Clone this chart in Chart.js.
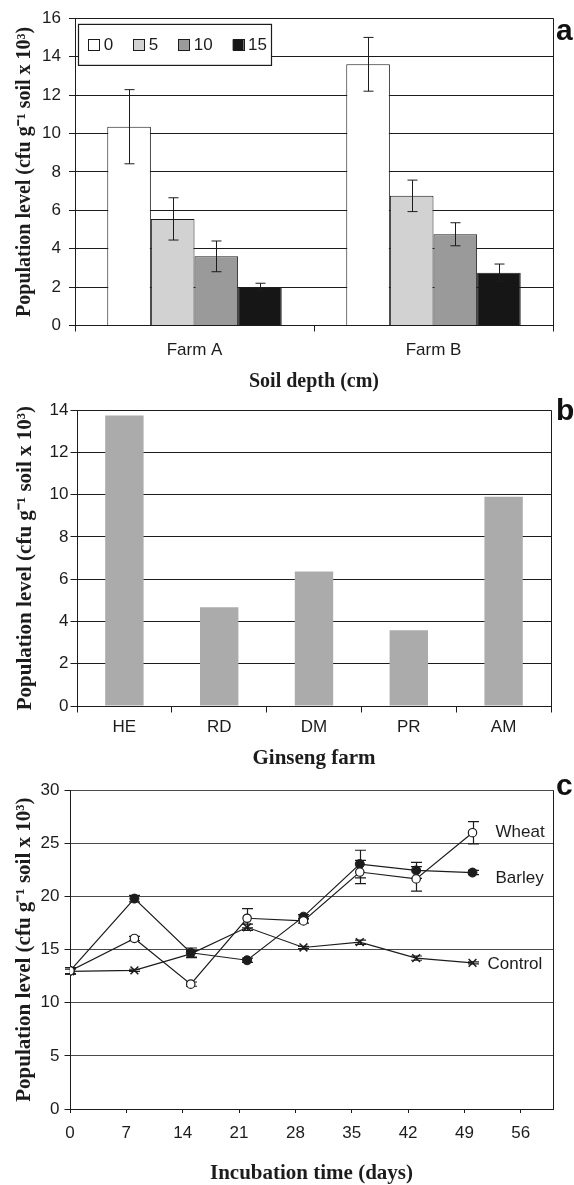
<!DOCTYPE html>
<html lang="en">
<head>
<meta charset="utf-8">
<title>Population level</title>
<script src="https://cdn.jsdelivr.net/npm/chart.js@4.4.1/dist/chart.umd.min.js"></script>
<style>
  html, body { margin:0; padding:0; background:#fff; }
  body { position:relative; width:574px; height:1185px; overflow:hidden; }
  canvas { position:absolute; left:0; }
  .tag { position:absolute; left:556px; font:bold 30px/30px 'Liberation Sans', Arial, sans-serif; color:#111; }
</style>
</head>
<body>
<canvas id="chartA" width="574" height="398" style="top:0"></canvas>
<canvas id="chartB" width="574" height="377" style="top:398px"></canvas>
<canvas id="chartC" width="574" height="410" style="top:775px"></canvas>
<div class="tag" style="top:15px">a</div>
<div class="tag" style="top:395px">b</div>
<div class="tag" style="top:770px">c</div>
<script>
// ---------- DATA ----------
// (a) soil depth
const depthFarms = ['Farm A', 'Farm B'];
const depthLabels = ['0', '5', '10', '15'];
const depth0 = [10.35, 13.6];
const depth5 = [5.55, 6.75];
const depth10 = [3.6, 4.75];
const depth15 = [2.0, 2.75];
const depth0Err = [1.93, 1.4];
const depth5Err = [1.1, 0.82];
const depth10Err = [0.8, 0.6];
const depth15Err = [0.2, 0.45];
const depthTicks = [0, 2, 4, 6, 8, 10, 12, 14, 16];

// (b) ginseng farm
const ginsengFarms = ['HE', 'RD', 'DM', 'PR', 'AM'];
const ginsengValues = [13.75, 4.67, 6.36, 3.58, 9.9];
const ginsengTicks = [0, 2, 4, 6, 8, 10, 12, 14];

// (c) incubation time
const incubationDays = [0, 8, 15, 22, 29, 36, 43, 50];
const wheatValues = [13.0, 16.05, 11.75, 17.95, 17.7, 22.3, 21.65, 26.0];
const wheatErrors = [0.3, 0.2, 0.2, 0.9, 0.2, 1.1, 1.15, 1.05];
const barleyValues = [13.0, 19.8, 14.7, 14.0, 18.1, 23.05, 22.45, 22.25];
const barleyErrors = [0.3, 0.3, 0.45, 0.2, 0.2, 1.3, 0.75, 0.2];
const controlValues = [12.95, 13.05, 14.6, 17.1, 15.2, 15.7, 14.2, 13.75];
const controlErrors = [0.2, 0.1, 0.3, 0.3, 0.1, 0.2, 0.2, 0.1];
const dayTicks = [0, 7, 14, 21, 28, 35, 42, 49, 56];
const populationTicks = [0, 5, 10, 15, 20, 25, 30];

// ---------- STYLE ----------
const SANS = "'Liberation Sans', Arial, Helvetica, sans-serif";
const SERIF = "'Liberation Serif', 'Times New Roman', Times, serif";
const INK = '#1c1c1c';
const Y_TITLE = 'Population level (cfu g\u207B\u00B9 soil x 10\u00B3)';
const depthColors = ['#ffffff', '#d2d2d2', '#9a9a9a', '#161616'];

Chart.defaults.font.family = SANS;
Chart.defaults.color = INK;

// ---------- PLUGINS ----------
function drawErrorBars(chart, opts){
  const ctx = chart.ctx;
  const yScale = chart.scales.y;
  ctx.save();
  ctx.strokeStyle = opts.color || INK;
  ctx.lineWidth = opts.lineWidth || 1;
  chart.data.datasets.forEach((ds, di) => {
    if(!ds.errors) return;
    const meta = chart.getDatasetMeta(di);
    meta.data.forEach((el, i) => {
      const raw = ds.data[i];
      const v = typeof raw === 'object' ? raw.y : raw;
      const e = ds.errors[i];
      const x = Math.round(el.x) + 0.5;
      const yTop = yScale.getPixelForValue(v + e);
      const yBot = yScale.getPixelForValue(v - e);
      ctx.beginPath();
      ctx.moveTo(x, yTop); ctx.lineTo(x, yBot);
      ctx.moveTo(x - opts.cap, yTop); ctx.lineTo(x + opts.cap, yTop);
      ctx.moveTo(x - opts.cap, yBot); ctx.lineTo(x + opts.cap, yBot);
      ctx.stroke();
    });
  });
  ctx.restore();
}

const errorBarPlugin = {
  id: 'errorBars',
  beforeDatasetsDraw(chart, args, opts){ if(!opts.onTop) drawErrorBars(chart, opts); },
  afterDatasetsDraw(chart, args, opts){ if(opts.onTop) drawErrorBars(chart, opts); }
};

// right-hand border of the plot box
const framePlugin = {
  id: 'frame',
  beforeDatasetsDraw(chart){
    const {ctx, chartArea:a} = chart;
    ctx.save();
    ctx.strokeStyle = INK;
    ctx.lineWidth = 1;
    ctx.beginPath();
    ctx.moveTo(Math.round(a.right) + 0.5, a.top);
    ctx.lineTo(Math.round(a.right) + 0.5, a.bottom);
    ctx.stroke();
    ctx.restore();
  }
};

// legend drawn inside the plot, in a white box
const boxLegendPlugin = {
  id: 'boxLegend',
  beforeDatasetsDraw(chart, args, o){
    const {ctx, chartArea} = chart;
    const x0 = chartArea.left + o.offsetX, y0 = chartArea.top + o.offsetY;
    const cy = y0 + o.height / 2;
    ctx.save();
    ctx.fillStyle = '#fff';
    ctx.fillRect(x0, y0, o.width, o.height);
    ctx.strokeStyle = INK;
    ctx.lineWidth = 1.2;
    ctx.strokeRect(x0, y0, o.width, o.height);
    ctx.font = `17px ${SANS}`;
    ctx.textBaseline = 'middle';
    ctx.lineWidth = 1;
    let x = x0 + o.padX;
    chart.data.datasets.forEach(ds => {
      ctx.fillStyle = ds.backgroundColor;
      ctx.fillRect(x, cy - o.box / 2, o.box, o.box);
      ctx.strokeRect(Math.round(x) + 0.5, Math.round(cy - o.box / 2) + 0.5, o.box, o.box);
      x += o.box + o.gap;
      ctx.fillStyle = INK;
      ctx.fillText(ds.label, x, cy);
      x += ctx.measureText(ds.label).width + o.itemGap;
    });
    ctx.restore();
  }
};

// series names next to the last point
const endLabelPlugin = {
  id: 'endLabels',
  afterDatasetsDraw(chart, args, o){
    const ctx = chart.ctx;
    ctx.save();
    ctx.font = `17px ${SANS}`;
    ctx.fillStyle = INK;
    ctx.textBaseline = 'middle';
    chart.data.datasets.forEach((ds, di) => {
      const meta = chart.getDatasetMeta(di);
      const last = meta.data[meta.data.length - 1];
      const off = o.offsets[ds.label] || {x: 20, y: 0};
      ctx.fillText(ds.label, last.x + off.x, last.y + off.y);
    });
    ctx.restore();
  }
};

// ---------- AXES ----------
function yAxis(c){
  return {
    min: 0, max: c.ticks[c.ticks.length - 1],
    afterBuildTicks: s => { s.ticks = c.ticks.map(v => ({value: v})); },
    afterFit: s => { s.width = c.width; },
    border: { color: INK, width: 1 },
    grid: { color: c.gridColor, lineWidth: 1, tickLength: c.tickLength, tickColor: INK },
    ticks: { color: INK, font: { size: 17 }, padding: c.padding },
    title: { display: true, text: Y_TITLE, color: INK, font: { family: SERIF, size: c.titleSize, weight: 'bold' }, padding: { top: c.titlePad, bottom: 0 } }
  };
}

function xTitle(text, size, padBottom){
  return { display: true, text, color: INK, font: { family: SERIF, size, weight: 'bold' }, padding: { top: 0, bottom: padBottom } };
}

function alapOpciok(padding, scales, plugins){
  return {
    responsive: false,
    animation: false,
    devicePixelRatio: 1,
    layout: { padding },
    plugins: Object.assign({ legend: { display: false }, tooltip: { enabled: false } }, plugins),
    scales
  };
}

// ---------- (a) ----------
const depthSeries = [depth0, depth5, depth10, depth15];
const depthErrorSeries = [depth0Err, depth5Err, depth10Err, depth15Err];

new Chart(document.getElementById('chartA'), {
  type: 'bar',
  data: {
    labels: depthFarms,
    datasets: depthLabels.map((lab, i) => ({
      label: lab, data: depthSeries[i], errors: depthErrorSeries[i],
      backgroundColor: depthColors[i], borderColor: INK, borderWidth: 1,
      categoryPercentage: 0.73, barPercentage: 1
    }))
  },
  options: alapOpciok({ left: 0, right: 21, top: 18, bottom: 0 }, {
    x: {
      afterFit: s => { s.height = 72.5; },
      border: { color: INK },
      grid: { offset: true, drawOnChartArea: false, tickLength: 6, tickColor: INK },
      ticks: { color: INK, font: { size: 17 }, padding: 9 },
      title: xTitle('Soil depth (cm)', 20, 4)
    },
    y: yAxis({ ticks: depthTicks, width: 75, gridColor: INK, tickLength: 6, padding: 8, titleSize: 20, titlePad: 12.5 })
  }, {
    errorBars: { onTop: true, cap: 5, lineWidth: 1 },
    boxLegend: { offsetX: 3.5, offsetY: 6.2, width: 193, height: 41, padX: 9.8, box: 11, gap: 4.5, itemGap: 20 }
  }),
  plugins: [framePlugin, boxLegendPlugin, errorBarPlugin]
});

// ---------- (b) ----------
new Chart(document.getElementById('chartB'), {
  type: 'bar',
  data: {
    labels: ginsengFarms,
    datasets: [{ label: 'Ginseng farm', data: ginsengValues, backgroundColor: '#aaabaa', borderWidth: 0, categoryPercentage: 0.405, barPercentage: 1 }]
  },
  options: alapOpciok({ left: 0, right: 23, top: 11, bottom: 0 }, {
    x: {
      afterFit: s => { s.height = 69; },
      border: { color: INK },
      grid: { offset: true, drawOnChartArea: false, tickLength: 6.5, tickColor: INK },
      ticks: { color: INK, font: { size: 17 }, padding: 5 },
      title: xTitle('Ginseng farm', 21, 3.5)
    },
    y: yAxis({ ticks: ginsengTicks, width: 77, gridColor: INK, tickLength: 6.5, padding: 2, titleSize: 21, titlePad: 13 })
  }, {}),
  plugins: [framePlugin]
});

// ---------- (c) ----------
function punktok(values){
  return incubationDays.map((d, i) => ({ x: d, y: values[i] }));
}

new Chart(document.getElementById('chartC'), {
  type: 'line',
  data: {
    datasets: [
      { label: 'Wheat', data: punktok(wheatValues), errors: wheatErrors, borderColor: INK, borderWidth: 1.2,
        pointStyle: 'circle', pointRadius: 4.2, pointBackgroundColor: '#fff', pointBorderColor: INK, pointBorderWidth: 1.2, tension: 0 },
      { label: 'Barley', data: punktok(barleyValues), errors: barleyErrors, borderColor: INK, borderWidth: 1.2,
        pointStyle: 'circle', pointRadius: 4.5, pointBackgroundColor: INK, pointBorderColor: INK, pointBorderWidth: 1, tension: 0 },
      { label: 'Control', data: punktok(controlValues), errors: controlErrors, borderColor: INK, borderWidth: 1.2,
        pointStyle: 'crossRot', pointRadius: 5.5, pointBorderColor: INK, pointBorderWidth: 1.5, tension: 0 }
    ]
  },
  options: alapOpciok({ left: 0, right: 21, top: 10, bottom: 0 }, {
    x: {
      type: 'linear', min: 0, max: 60,
      afterBuildTicks: s => { s.ticks = dayTicks.map(v => ({value: v})); },
      afterFit: s => { s.height = 76; },
      border: { color: INK },
      grid: { drawOnChartArea: false, tickLength: 4, tickColor: INK },
      ticks: { color: INK, font: { size: 17 }, padding: 10.5 },
      title: xTitle('Incubation time (days)', 21, -1)
    },
    y: yAxis({ ticks: populationTicks, width: 70, gridColor: '#4a4a4a', tickLength: 5.5, padding: 5, titleSize: 21, titlePad: 12 })
  }, {
    errorBars: { onTop: false, cap: 5.5, lineWidth: 1.2 },
    endLabels: { offsets: { Wheat: { x: 23, y: 0 }, Barley: { x: 23, y: 6 }, Control: { x: 15, y: 1 } } }
  }),
  plugins: [framePlugin, errorBarPlugin, endLabelPlugin]
});
</script>
</body>
</html>
